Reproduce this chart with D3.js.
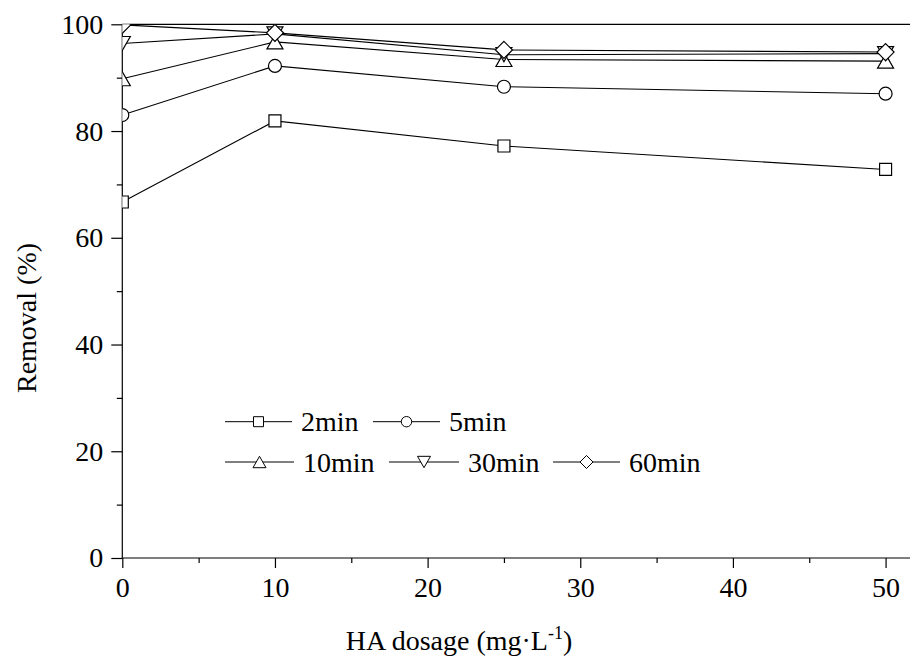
<!DOCTYPE html>
<html>
<head>
<meta charset="utf-8">
<script src="https://cdn.jsdelivr.net/npm/d3@7"></script>
<style>
  html, body { margin: 0; padding: 0; background: #fff; }
  svg { display: block; }
</style>
</head>
<body>
<svg id="chart" width="911" height="664"></svg>
<script>
// HA dosage (mg/L) on the x axis
const dosage = [0, 10, 25, 50];

// Removal (%) for each contact time
const seriesNames = ["2min", "5min", "10min", "30min", "60min"];
const removal2min  = [66.7, 81.9, 77.2, 72.8];
const removal5min  = [83.0, 92.2, 88.3, 87.0];
const removal10min = [89.8, 96.7, 93.4, 93.1];
const removal30min = [96.4, 98.2, 94.3, 94.5];
const removal60min = [99.9, 98.4, 95.2, 94.8];
const seriesValues = [removal2min, removal5min, removal10min, removal30min, removal60min];
const markerTypes = ["square", "circle", "triangleUp", "triangleDown", "diamond"];

const yTicks = [0, 20, 40, 60, 80, 100];
const yMinorTicks = [10, 30, 50, 70, 90];
const xTicks = [0, 10, 20, 30, 40, 50];
const xMinorTicks = [5, 15, 25, 35, 45];

const serif = "'Liberation Serif', 'Times New Roman', Times, serif";
const svg = d3.select("#chart");
const plotLeft = 122.3, plotRight = 910, plotTop = 24.3, plotBottom = 558;

const x = d3.scaleLinear().domain([0, 51.6]).range([plotLeft, plotRight]);
const y = d3.scaleLinear().domain([0, 100]).range([plotBottom, plotTop]);

// marker path builders, r = half width
function markerPath(type, r) {
  const p = d3.path();
  if (type === "square") {
    p.rect(-r, -r, 2 * r, 2 * r);
  } else if (type === "circle") {
    p.arc(0, 0, r, 0, 2 * Math.PI);
  } else if (type === "triangleUp") {
    const h = r * 1.75;
    p.moveTo(0, -h / 2); p.lineTo(r, h / 2); p.lineTo(-r, h / 2); p.closePath();
  } else if (type === "triangleDown") {
    const h = r * 1.75;
    p.moveTo(0, h / 2); p.lineTo(r, -h / 2); p.lineTo(-r, -h / 2); p.closePath();
  } else if (type === "diamond") {
    p.moveTo(0, -r); p.lineTo(r, 0); p.lineTo(0, r); p.lineTo(-r, 0); p.closePath();
  }
  return p.toString();
}
const plotSize = { square: 6, circle: 6.5, triangleUp: 8, triangleDown: 8, diamond: 8.5 };
const legendSize = { square: 5, circle: 5.2, triangleUp: 6.5, triangleDown: 6.5, diamond: 6.5 };

// clip region for data
svg.append("defs").append("clipPath").attr("id", "plotClip")
  .append("rect").attr("x", plotLeft).attr("y", plotTop)
  .attr("width", plotRight - plotLeft).attr("height", plotBottom - plotTop);

const tickFont = 28;

// y axis: major + minor ticks
const yAxis = svg.append("g").attr("transform", `translate(${plotLeft},0)`)
  .call(d3.axisLeft(y).tickValues(yTicks).tickSize(11).tickPadding(8).tickFormat(d3.format("d")))
  .attr("font-family", serif).attr("font-size", tickFont);
yAxis.select(".domain").attr("d", `M0,${plotBottom}V${plotTop}`);
svg.append("g").attr("transform", `translate(${plotLeft},0)`)
  .call(d3.axisLeft(y).tickValues(yMinorTicks).tickSize(5.5).tickFormat(""))
  .select(".domain").remove();

// x axis: major + minor ticks
const xAxis = svg.append("g").attr("transform", `translate(0,${plotBottom})`)
  .call(d3.axisBottom(x).tickValues(xTicks).tickSize(10).tickPadding(9).tickFormat(d3.format("d")))
  .attr("font-family", serif).attr("font-size", tickFont);
xAxis.select(".domain").attr("d", `M${plotLeft},0H${plotRight}`);
svg.append("g").attr("transform", `translate(0,${plotBottom})`)
  .call(d3.axisBottom(x).tickValues(xMinorTicks).tickSize(5).tickFormat(""))
  .select(".domain").remove();

// top frame line
svg.append("line").attr("x1", plotLeft).attr("x2", plotRight).attr("y1", plotTop).attr("y2", plotTop)
  .attr("stroke", "#000").attr("stroke-width", 1.2);

svg.selectAll(".domain, .tick line").attr("stroke", "#000").attr("stroke-width", 1.2);

// series lines and markers
const plot = svg.append("g").attr("clip-path", "url(#plotClip)");
const line = d3.line().x((d, i) => x(dosage[i])).y(d => y(d));

seriesValues.forEach((vals) => {
  plot.append("path").datum(vals)
    .attr("d", line).attr("fill", "none").attr("stroke", "#000").attr("stroke-width", 1.1);
});
seriesValues.forEach((vals, si) => {
  const type = markerTypes[si];
  plot.selectAll(null).data(vals).enter().append("path")
    .attr("transform", (d, i) => `translate(${x(dosage[i])},${y(d)})`)
    .attr("d", markerPath(type, plotSize[type]))
    .attr("fill", "#fff").attr("stroke", "#000").attr("stroke-width", 1.2);
});

// legend
const legendItems = [
  { row: 0, x0: 225, x1: 292 },
  { row: 0, x0: 373, x1: 440 },
  { row: 1, x0: 225, x1: 294 },
  { row: 1, x0: 389, x1: 459 },
  { row: 1, x0: 553, x1: 620 }
];
const rowY = [421.7, 462];
const legend = svg.append("g").attr("font-family", serif).attr("font-size", 28);
seriesNames.forEach((name, si) => {
  const it = legendItems[si];
  const type = markerTypes[si];
  const cy = rowY[it.row];
  const cx = (it.x0 + it.x1) / 2;
  legend.append("line").attr("x1", it.x0).attr("x2", it.x1).attr("y1", cy).attr("y2", cy)
    .attr("stroke", "#000").attr("stroke-width", 1);
  legend.append("path").attr("transform", `translate(${cx},${cy})`)
    .attr("d", markerPath(type, legendSize[type]))
    .attr("fill", "#fff").attr("stroke", "#000").attr("stroke-width", 1);
  legend.append("text").attr("x", it.x1 + 9).attr("y", cy + 9.5)
    .attr("fill", "#000").text(name);
});

// axis titles
const xTitle = svg.append("text").attr("x", 459).attr("y", 650)
  .attr("text-anchor", "middle").attr("font-family", serif).attr("font-size", 28);
xTitle.append("tspan").text("HA dosage (mg·L");
xTitle.append("tspan").attr("dy", -11).attr("font-size", 18).text("-1");
xTitle.append("tspan").attr("dy", 11).text(")");

svg.append("text").attr("transform", "translate(36,318) rotate(-90)")
  .attr("text-anchor", "middle").attr("font-family", serif).attr("font-size", 28)
  .text("Removal (%)");
</script>
</body>
</html>
